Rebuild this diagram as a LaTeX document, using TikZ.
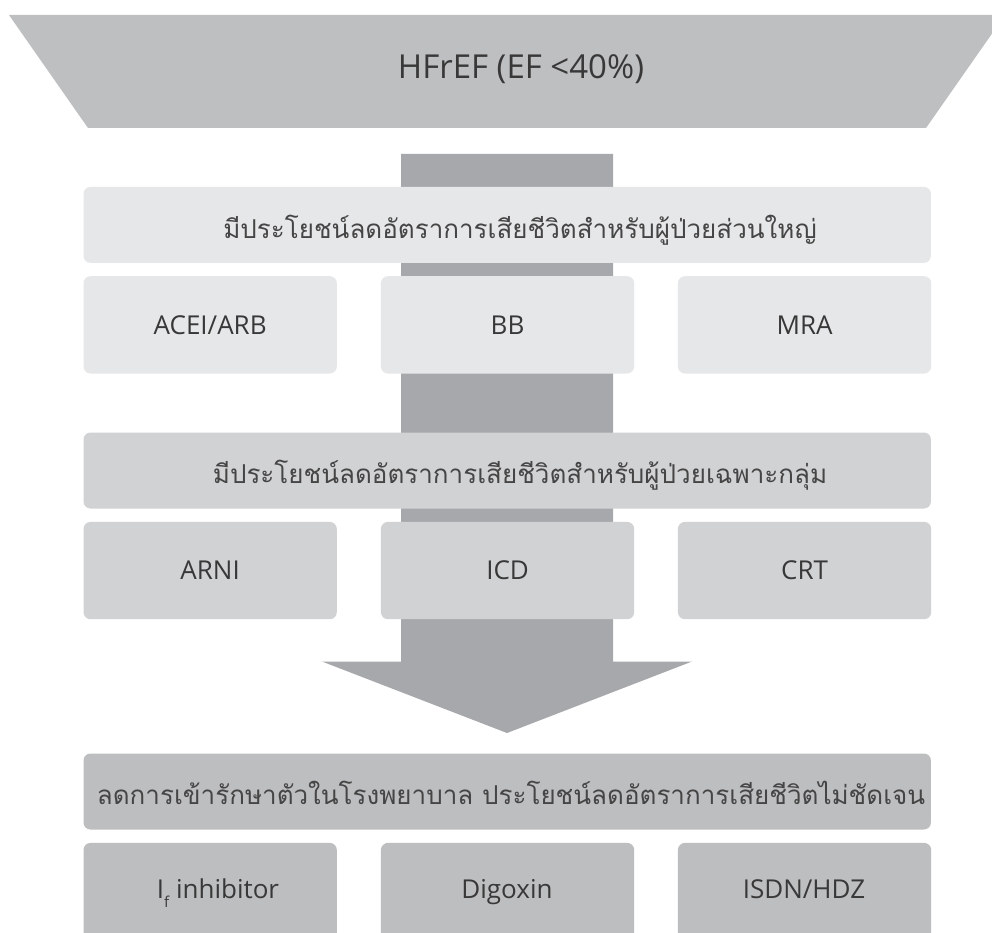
\documentclass[tikz,border=0pt]{standalone}
\usepackage{fontspec}
\setmainfont{Open Sans}
\newfontfamily\thaifont[Script=Thai]{Loma}
\definecolor{trapfill}{HTML}{BEBFC1}
\definecolor{shaftfill}{HTML}{A7A8AB}
\definecolor{lvla}{HTML}{E6E7E8}
\definecolor{lvlb}{HTML}{D1D2D4}
\definecolor{lvlc}{HTML}{BDBEC0}
\definecolor{ink}{HTML}{383838}
\definecolor{thaiink}{HTML}{454545}
\begin{document}
\begin{tikzpicture}[x=1pt,y=-1pt,
  boxbase/.style={rounded corners=7pt, inner sep=0pt, anchor=north west, text=ink,
    font=\fontsize{26}{30}\selectfont, text height=18.6pt, text depth=0pt},
  headbox/.style={boxbase, minimum width=847.4pt, minimum height=76pt},
  cellbox/.style={boxbase, minimum width=253.3pt, minimum height=97.3pt},
  thaitext/.style={anchor=base, inner sep=0pt, text=thaiink, font=\thaifont\fontsize{26}{30}\selectfont},
  celltext/.style={anchor=base, inner sep=0pt, text=ink, font=\fontsize{26}{30}\selectfont},
]
\useasboundingbox (0,0) rectangle (992,933);
\clip (0,0) rectangle (992,933);
\fill[white] (0,0) rectangle (992,933);

% top trapezoid
\fill[trapfill] (9,15) -- (1005,15) -- (926,128) -- (88,128) -- cycle;
\node[anchor=base, inner sep=0pt, text=ink, font=\fontsize{33}{38}\selectfont] (title) at (521,79) {HFrEF (EF <40\%)};

% big arrow behind
\fill[shaftfill] (401,154) -- (613,154) -- (613,661.5) -- (692,661.5) -- (507,733) -- (322,661.5) -- (401,661.5) -- cycle;

% level 1
\node[headbox, fill=lvla] (h1) at (83.3,186.7) {};
\node[thaitext] (t1) at (520,238.3) {มีประโยชน์ลดอัตราการเสียชีวิตสำหรับผู้ป่วยส่วนใหญ่};
\node[cellbox, fill=lvla] (a1) at (83.3,276) {ACEI/ARB};
\node[cellbox, fill=lvla] (a2) at (380.7,276) {BB};
\node[cellbox, fill=lvla] (a3) at (677.7,276) {MRA};

% level 2
\node[headbox, fill=lvlb] (h2) at (83.3,432.3) {};
\node[thaitext] (t2) at (520,483.3) {มีประโยชน์ลดอัตราการเสียชีวิตสำหรับผู้ป่วยเฉพาะกลุ่ม};
\node[cellbox, fill=lvlb] (b1) at (83.3,521.7) {ARNI};
\node[cellbox, fill=lvlb] (b2) at (380.7,521.7) {ICD};
\node[cellbox, fill=lvlb] (b3) at (677.7,521.7) {CRT};

% level 3
\node[headbox, fill=lvlc] (h3) at (83.3,753.3) {};
\node[thaitext] (t3) at (511,804.6) {ลดการเข้ารักษาตัวในโรงพยาบาล ประโยชน์ลดอัตราการเสียชีวิตไม่ชัดเจน};
\node[cellbox, fill=lvlc, minimum height=120pt] (c1) at (83.3,842.7) {};
\node[cellbox, fill=lvlc, minimum height=120pt] (c2) at (380.7,842.7) {};
\node[cellbox, fill=lvlc, minimum height=120pt] (c3) at (677.7,842.7) {};
\node[celltext] (l1) at (218,898.3) {I\raisebox{-9pt}{\fontsize{15}{15}\selectfont f}\ inhibitor};
\node[celltext] (l2) at (507,898.3) {Digoxin};
\node[celltext] (l3) at (804,898.3) {ISDN/HDZ};
\end{tikzpicture}
\end{document}
